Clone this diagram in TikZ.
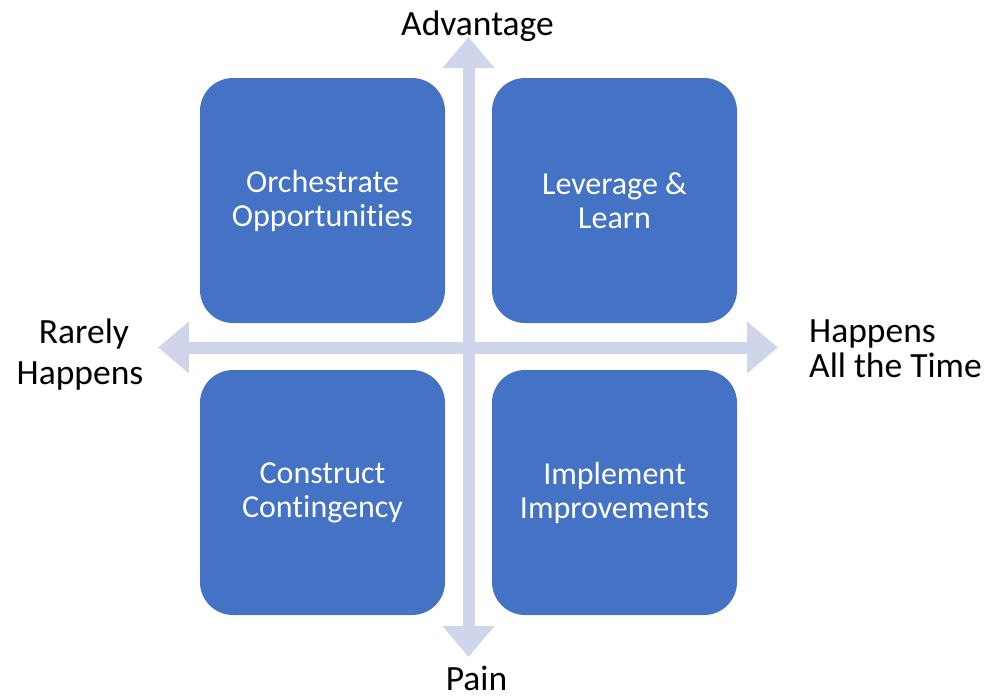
\documentclass[tikz,border=0pt]{standalone}
\usepackage{fontspec}
\setmainfont{Carlito}[Ligatures=NoCommon]
\usetikzlibrary{arrows.meta}
\definecolor{boxblue}{RGB}{68,114,196}
\definecolor{axiscol}{RGB}{207,213,234}
\begin{document}
\begin{tikzpicture}[x=1pt,y=-1pt,
  quad/.style={fill=boxblue, draw=none, rounded corners=33pt, minimum width=245pt, minimum height=245pt, inner sep=0pt, align=center, text=white, font=\fontsize{32}{34}\selectfont},
  axis/.style={draw=axiscol, line width=12pt, {Triangle[length=31pt,width=50pt]}-{Triangle[length=31pt,width=50pt]}},
  lbl/.style={inner sep=0pt, font=\fontsize{35.5}{38}\selectfont, text=black}]
\useasboundingbox (0,0) rectangle (995,697);
\coordinate (vtop) at (468.5,37);
\coordinate (vbot) at (468.5,657);
\coordinate (hleft) at (158,347.5);
\coordinate (hright) at (778,347.5);
\draw[axis] (vtop) -- (vbot);
\draw[axis] (hleft) -- (hright);
\node[quad] (tl) at (322.5,200.5) {Orchestrate\\Opportunities};
\node[quad] (tr) at (614.5,200.5) {Leverage \&\\Learn};
\node[quad] (bl) at (322.5,492.5) {Construct\\Contingency};
\node[quad] (br) at (614.5,492.5) {Implement\\Improvements};
\node[lbl, anchor=base] (adv) at (477.5,35) {Advantage};
\node[lbl, anchor=base] (pain) at (476.5,690) {Pain};
\node[lbl, anchor=base] (rare1) at (84,343) {Rarely};
\node[lbl, anchor=base] (rare2) at (80,384) {Happens};
\node[lbl, anchor=base west] (hap1) at (809,342) {Happens};
\node[lbl, anchor=base west] (hap2) at (809,377) {All the Time};
\end{tikzpicture}
\end{document}
